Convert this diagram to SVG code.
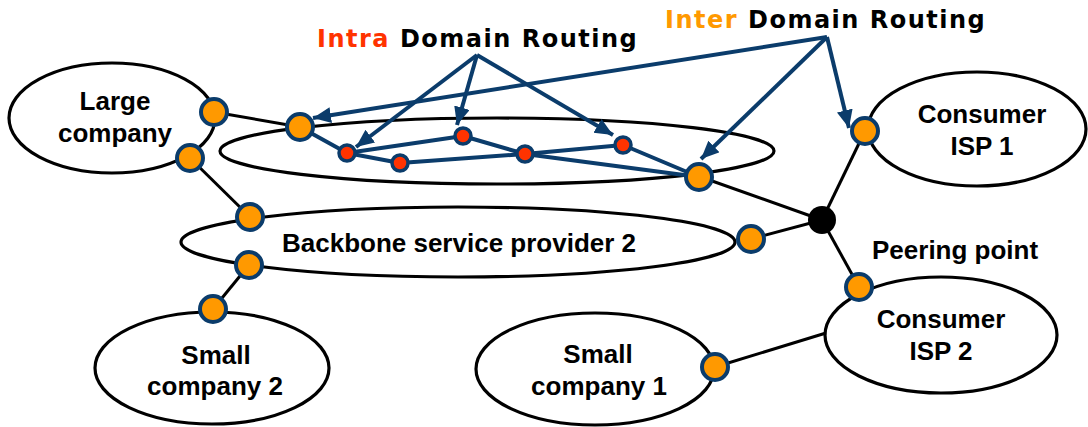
<svg xmlns="http://www.w3.org/2000/svg" width="1088" height="427" viewBox="0 0 1088 427">
<style>
.dom{fill:#fff;stroke:#000;stroke-width:3.2}
.lbl{font-family:"Liberation Sans",Arial,sans-serif;font-weight:bold;font-size:26px;fill:#000;text-anchor:middle}
.ttl{font-family:"DejaVu Sans",Verdana,sans-serif;font-weight:bold;font-size:24px;letter-spacing:1.5px;fill:#000}
.gw{fill:#FF9900;stroke:#0B3C6B;stroke-width:4}
.rt{fill:#FF3300;stroke:#0B3C6B;stroke-width:3.5}
.blk{stroke:#000;stroke-width:3;fill:none}
.blu{stroke:#0B3C6B;stroke-width:4;fill:none;stroke-linejoin:round}
.arr{stroke:#0B3C6B;stroke-width:4;fill:none;marker-end:url(#ah)}
</style>
<defs>
<marker id="ah" markerUnits="userSpaceOnUse" markerWidth="20" markerHeight="17" refX="18" refY="8" orient="auto">
<path d="M0,0 L18,8 L0,16 z" fill="#0B3C6B"/>
</marker>
</defs>

<g id="large-company"><ellipse class="dom" cx="112" cy="118" rx="103" ry="55"/><text class="lbl" x="115" y="110">Large</text><text class="lbl" x="115" y="142">company</text></g>
<g id="backbone-1"><ellipse class="dom" cx="497" cy="151" rx="277" ry="33"/></g>
<g id="backbone-2"><ellipse class="dom" cx="458" cy="242" rx="277" ry="35"/><text class="lbl" x="459" y="252">Backbone service provider 2</text></g>
<g id="consumer-isp-1"><ellipse class="dom" cx="977" cy="129" rx="109" ry="57"/><text class="lbl" x="982" y="123">Consumer</text><text class="lbl" x="982" y="155">ISP 1</text></g>
<g id="consumer-isp-2"><ellipse class="dom" cx="941" cy="335" rx="116" ry="58"/><text class="lbl" x="941" y="328">Consumer</text><text class="lbl" x="941" y="360">ISP 2</text></g>
<g id="small-company-1"><ellipse class="dom" cx="595" cy="369" rx="119" ry="56"/><text class="lbl" x="598" y="363">Small</text><text class="lbl" x="599" y="395">company 1</text></g>
<g id="small-company-2"><ellipse class="dom" cx="212" cy="368" rx="117" ry="56"/><text class="lbl" x="216" y="364">Small</text><text class="lbl" x="215" y="395">company 2</text></g>

<g id="connectors">
<line class="blk" x1="214" y1="112" x2="300" y2="127"/>
<line class="blk" x1="190" y1="158" x2="250" y2="217"/>
<line class="blk" x1="249" y1="265" x2="213" y2="309"/>
<line class="blk" x1="698" y1="176" x2="822" y2="220"/>
<line class="blk" x1="822" y1="220" x2="865" y2="131"/>
<line class="blk" x1="822" y1="220" x2="751" y2="239"/>
<line class="blk" x1="822" y1="220" x2="859" y2="287"/>
<line class="blk" x1="715" y1="367" x2="826" y2="333"/>
<polyline class="blu" points="300,127 347,153 463,136 525,154 623,145 699,177"/>
<polyline class="blu" points="347,153 400,163 525,154 699,177"/>
<line class="arr" x1="477" y1="55" x2="356" y2="147"/>
<line class="arr" x1="477" y1="55" x2="457" y2="125"/>
<line class="arr" x1="477" y1="55" x2="613" y2="135"/>
<line class="arr" x1="827" y1="37" x2="313" y2="118"/>
<line class="arr" x1="827" y1="37" x2="701" y2="159"/>
<line class="arr" x1="827" y1="37" x2="849" y2="128"/>
</g>

<g id="gw-large-1"><circle class="gw" cx="214" cy="112" r="13"/></g>
<g id="gw-large-2"><circle class="gw" cx="190" cy="158" r="13"/></g>
<g id="gw-bb1-west"><circle class="gw" cx="300" cy="127" r="13"/></g>
<g id="gw-bb1-east"><circle class="gw" cx="699" cy="177" r="13"/></g>
<g id="gw-bb2-nw"><circle class="gw" cx="250" cy="217" r="13"/></g>
<g id="gw-bb2-sw"><circle class="gw" cx="249" cy="265" r="13"/></g>
<g id="gw-bb2-east"><circle class="gw" cx="751" cy="239" r="13"/></g>
<g id="gw-small-2"><circle class="gw" cx="213" cy="309" r="13"/></g>
<g id="gw-small-1"><circle class="gw" cx="715" cy="367" r="13"/></g>
<g id="gw-isp-1"><circle class="gw" cx="865" cy="131" r="13"/></g>
<g id="gw-isp-2"><circle class="gw" cx="859" cy="287" r="13"/></g>
<g id="rt-1"><circle class="rt" cx="347" cy="153" r="8"/></g>
<g id="rt-2"><circle class="rt" cx="400" cy="163" r="8"/></g>
<g id="rt-3"><circle class="rt" cx="463" cy="136" r="8"/></g>
<g id="rt-4"><circle class="rt" cx="525" cy="154" r="8"/></g>
<g id="rt-5"><circle class="rt" cx="623" cy="145" r="8"/></g>
<g id="peering-point"><circle cx="822" cy="220" r="14" fill="#000"/><text class="lbl" x="872" y="259" style="text-anchor:start">Peering point</text></g>

<g id="title-intra"><text class="ttl" x="317" y="47"><tspan fill="#FF3300">Intra</tspan> Domain Routing</text></g>
<g id="title-inter"><text class="ttl" x="665" y="28"><tspan fill="#FF9900">Inter</tspan> Domain Routing</text></g>
</svg>
